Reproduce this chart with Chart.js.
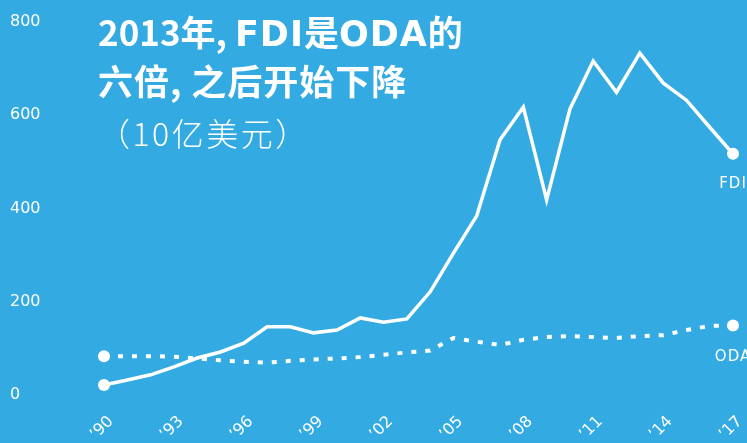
<!DOCTYPE html>
<html>
<head>
<meta charset="utf-8">
<script src="https://cdn.jsdelivr.net/npm/chart.js@4.4.1/dist/chart.umd.min.js"></script>
<style>
  body { margin: 0; background: #33aae1; }
  #wrap { position: relative; width: 747px; height: 443px; background: #33aae1; overflow: hidden; }
  .title { position: absolute; left: 98px; color: #fff; font: 700 35px 'Noto Sans CJK SC', sans-serif; line-height: 35px; white-space: nowrap; }
  .title .lat { font-family: 'DejaVu Sans', sans-serif; letter-spacing: 1px; }
  #t1 { top: 13px; }
  #t2 { top: 62px; letter-spacing: 1px; }
  #unit { position: absolute; left: 98px; top: 116px; color: #fff; font: 300 32px 'Noto Sans CJK SC', sans-serif; line-height: 32px; letter-spacing: 2.5px; white-space: nowrap; }
</style>
</head>
<body>
<div id="wrap">
  <canvas id="chart" width="747" height="443"></canvas>
  <div class="title" id="t1">2013年, <span class="lat">FDI</span>是<span class="lat">ODA</span>的</div>
  <div class="title" id="t2">六倍, 之后开始下降</div>
  <div id="unit">（10亿美元）</div>
</div>
<script>
const years = [1990, 1991, 1992, 1993, 1994, 1995, 1996, 1997, 1998, 1999, 2000, 2001, 2002, 2003,
  2004, 2005, 2006, 2007, 2008, 2009, 2010, 2011, 2012, 2013, 2014, 2015, 2016, 2017];
// FDI, billions of US$
const fdi = [17, 28, 39, 56, 75, 88, 107, 142, 142, 129, 135, 161, 152, 159,
  217, 300, 380, 543, 613, 414, 609, 712, 645, 729, 665, 628, 570, 513];
// ODA, billions of US$
const oda = [79, 79, 79, 78, 74, 70, 67, 65, 69, 72, 74, 77, 82, 87,
  91, 118, 110, 103, 114, 120, 122, 120, 118, 122, 124, 135, 144, 145];
const xTickYears = [1990, 1993, 1996, 1999, 2002, 2005, 2008, 2011, 2014, 2017];
const xTickLabels = ['’90', '’93', '’96', '’99', '’02', '’05', '’08', '’11', '’14', '’17'];
const yTicks = [0, 200, 400, 600, 800];
const seriesNames = ['FDI', 'ODA'];

const toPoints = vals => vals.map((v, i) => ({ x: years[i], y: v }));
const endDot = ctx => (ctx.dataIndex === 0 || ctx.dataIndex === years.length - 1) ? 6 : 0;

// x tick labels (rotated) and end-of-line series names
const labelPlugin = {
  id: 'labels',
  afterDatasetsDraw(chart) {
    const ctx = chart.ctx;
    const xs = chart.scales.x;
    ctx.save();
    ctx.fillStyle = '#fff';
    ctx.font = '16px "DejaVu Sans"';
    ctx.textAlign = 'center';
    ctx.textBaseline = 'middle';
    xTickYears.forEach((yr, i) => {
      ctx.save();
      ctx.translate(xs.getPixelForValue(yr) - 2, 428);
      ctx.rotate(-Math.PI / 4);
      ctx.fillText(xTickLabels[i], 0, 0);
      ctx.restore();
    });
    ctx.font = '15px "DejaVu Sans"';
    ctx.letterSpacing = '1px';
    chart.data.datasets.forEach((ds, i) => {
      const meta = chart.getDatasetMeta(i);
      const last = meta.data[meta.data.length - 1];
      ctx.fillText(seriesNames[i], last.x, last.y + 30 + i * 2);
    });
    ctx.restore();
  }
};

new Chart(document.getElementById('chart'), {
  type: 'line',
  data: {
    datasets: [
      {
        label: seriesNames[0],
        data: toPoints(fdi),
        borderColor: '#fff',
        borderWidth: 3.5,
        pointRadius: endDot,
        pointBackgroundColor: '#fff',
        pointBorderWidth: 0,
        tension: 0,
        clip: false
      },
      {
        label: seriesNames[1],
        data: toPoints(oda),
        borderColor: '#fff',
        borderWidth: 4,
        borderDash: [5, 9],
        borderCapStyle: 'butt',
        pointRadius: endDot,
        pointBackgroundColor: '#fff',
        pointBorderWidth: 0,
        tension: 0,
        clip: false
      }
    ]
  },
  options: {
    responsive: false,
    animation: false,
    layout: { padding: { left: 10, right: 14, top: 20, bottom: 50 } },
    plugins: { legend: { display: false }, tooltip: { enabled: false } },
    scales: {
      x: { type: 'linear', min: 1990, max: 2017, display: false },
      y: {
        min: 0,
        max: 800,
        afterFit: s => { s.width = 94; },
        afterBuildTicks: s => { s.ticks = yTicks.map(v => ({ value: v })); },
        grid: { display: false },
        border: { display: false },
        ticks: {
          color: '#fff',
          crossAlign: 'far',
          labelOffset: 2,
          font: { family: 'DejaVu Sans', size: 16 }
        }
      }
    }
  },
  plugins: [labelPlugin]
});
</script>
</body>
</html>
